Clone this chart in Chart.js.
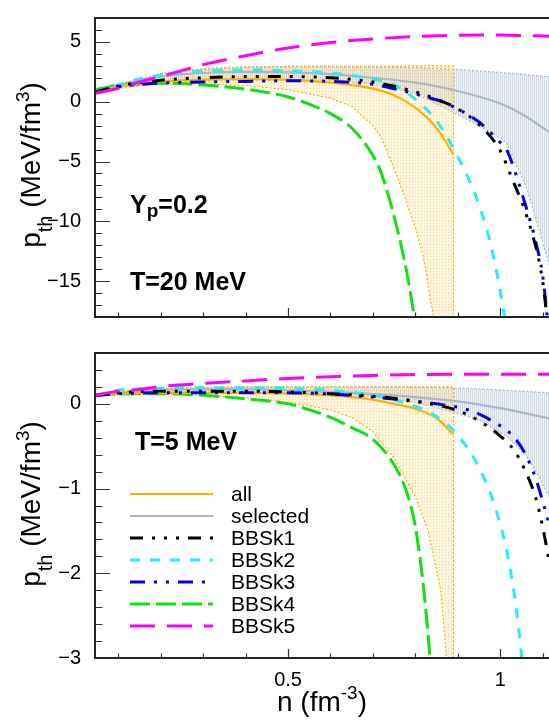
<!DOCTYPE html>
<html>
<head>
<meta charset="utf-8">
<script src="https://cdn.jsdelivr.net/npm/chart.js@4.4.1/dist/chart.umd.min.js"></script>
<style>
  html, body { margin: 0; padding: 0; background: #fff; overflow: hidden; }
  canvas { position: absolute; left: 0; }
  #top { top: 0; }
  #bot { top: 335px; }
</style>
</head>
<body>
<canvas id="top" width="549" height="335"></canvas>
<canvas id="bot" width="549" height="386"></canvas>
<script>
// x axis: n (fm^-3)
const nMin = 0.045, nMax = 1.115;
const xMajor = [0.5, 1];
const yMajorT20 = [5, 0, -5, -10, -15];
const yMajorT5 = [0, -1, -2, -3];

// ---- T = 20 MeV ----
const nAll20 = [0.045, 0.1, 0.15, 0.2, 0.3, 0.4, 0.5, 0.6, 0.65, 0.7, 0.75, 0.8, 0.85, 0.89];
const all20 = [0.8, 1.3, 1.55, 1.7, 1.85, 1.9, 1.85, 1.6, 1.4, 1.1, 0.55, -0.5, -2.2, -4.4];
const nSel20 = [0.045, 0.1, 0.15, 0.2, 0.3, 0.4, 0.5, 0.6, 0.7, 0.8, 0.9, 1.0, 1.05, 1.13];
const sel20 = [0.8, 1.35, 1.8, 2.1, 2.4, 2.5, 2.45, 2.3, 2.0, 1.6, 0.9, -0.15, -1.0, -2.9];
const nK1_20 = [0.045, 0.1, 0.15, 0.2, 0.3, 0.4, 0.5, 0.6, 0.7, 0.76, 0.82, 0.9, 0.95, 1.0, 1.03, 1.055, 1.085, 1.1, 1.115];
const k1_20 = [0.8, 1.3, 1.6, 1.8, 2.0, 2.1, 2.1, 2.0, 1.65, 1.2, 0.6, -0.6, -1.9, -4.1, -6.6, -8.8, -12.3, -15.0, -19.5];
const nK2_20 = [0.045, 0.1, 0.15, 0.2, 0.3, 0.4, 0.5, 0.6, 0.7, 0.75, 0.8, 0.85, 0.9, 0.95, 0.98, 1.0, 1.015];
const k2_20 = [0.8, 1.4, 1.9, 2.2, 2.55, 2.65, 2.6, 2.4, 1.9, 1.4, 0.2, -1.6, -4.6, -8.6, -12.3, -15.8, -19];
const nK3_20 = [0.045, 0.1, 0.15, 0.2, 0.3, 0.4, 0.5, 0.6, 0.7, 0.76, 0.82, 0.87, 0.95, 1.0, 1.015, 1.06, 1.085, 1.1, 1.115];
const k3_20 = [0.8, 1.25, 1.45, 1.55, 1.65, 1.7, 1.75, 1.7, 1.45, 1.0, 0.45, -0.1, -1.7, -3.4, -4.0, -8.7, -11.9, -14.5, -19.5];
const nK4_20 = [0.045, 0.1, 0.15, 0.2, 0.3, 0.4, 0.5, 0.55, 0.6, 0.65, 0.7, 0.72, 0.75, 0.78, 0.8];
const k4_20 = [1.0, 1.35, 1.5, 1.55, 1.4, 1.05, 0.4, -0.2, -1.0, -2.2, -4.5, -6.0, -9.6, -14.3, -18.5];
const nK5_20 = [0.045, 0.1, 0.15, 0.2, 0.3, 0.4, 0.5, 0.6, 0.7, 0.8, 0.9, 1.0, 1.13];
const k5_20 = [0.7, 1.12, 1.65, 2.1, 3.1, 3.85, 4.5, 4.95, 5.25, 5.45, 5.55, 5.57, 5.47];
// bands (upper / lower edges)
const nAllUp20 = [0.045, 0.1, 0.2, 0.3, 0.4, 0.5, 0.6, 0.7, 0.8, 0.89];
const allUp20 = [0.8, 1.45, 2.3, 2.75, 2.9, 2.95, 2.95, 2.95, 3.0, 3.0];
const nAllLo20 = [0.045, 0.1, 0.2, 0.3, 0.4, 0.5, 0.6, 0.65, 0.7, 0.72, 0.76, 0.8, 0.82, 0.845, 0.89];
const allLo20 = [0.8, 1.25, 1.5, 1.5, 1.35, 1.0, 0.3, -0.4, -2.0, -3.0, -6.5, -10.5, -13.2, -18.5, -19];
const nSelUp20 = [0.045, 0.1, 0.2, 0.3, 0.4, 0.5, 0.6, 0.7, 0.8, 0.9, 1.0, 1.13];
const selUp20 = [0.8, 1.45, 2.35, 2.75, 2.9, 2.95, 2.95, 2.9, 2.85, 2.7, 2.45, 2.05];
const nSelLo20 = [0.045, 0.2, 0.4, 0.6, 0.7, 0.8, 0.89, 0.95, 1.0, 1.015, 1.06, 1.09, 1.13];
const selLo20 = [0.8, 1.6, 1.8, 1.75, 1.5, 0.7, -0.9, -2.0, -3.0, -3.5, -7.0, -10.5, -15.5];

// ---- T = 5 MeV ----
const nAll5 = [0.045, 0.1, 0.2, 0.3, 0.4, 0.5, 0.6, 0.7, 0.75, 0.8, 0.85, 0.89];
const all5 = [0.1, 0.12, 0.13, 0.13, 0.13, 0.12, 0.1, 0.05, 0.0, -0.06, -0.17, -0.36];
const nSel5 = [0.045, 0.1, 0.2, 0.3, 0.4, 0.5, 0.6, 0.7, 0.8, 0.9, 1.0, 1.05, 1.13];
const sel5 = [0.1, 0.13, 0.16, 0.17, 0.17, 0.16, 0.14, 0.115, 0.08, 0.03, -0.05, -0.1, -0.19];
const nK1_5 = [0.045, 0.1, 0.2, 0.3, 0.4, 0.5, 0.6, 0.7, 0.8, 0.9, 0.95, 1.0, 1.03, 1.06, 1.085, 1.1, 1.115, 1.13];
const k1_5 = [0.1, 0.13, 0.15, 0.15, 0.15, 0.14, 0.12, 0.09, 0.03, -0.08, -0.2, -0.38, -0.53, -0.8, -1.13, -1.45, -1.85, -2.3];
const nK2_5 = [0.045, 0.1, 0.2, 0.3, 0.4, 0.5, 0.6, 0.7, 0.8, 0.85, 0.9, 0.95, 0.99, 1.02, 1.04, 1.055];
const k2_5 = [0.1, 0.16, 0.185, 0.19, 0.19, 0.185, 0.16, 0.1, -0.03, -0.15, -0.37, -0.75, -1.25, -1.85, -2.5, -3.2];
const nK3_5 = [0.045, 0.1, 0.2, 0.3, 0.4, 0.5, 0.6, 0.7, 0.8, 0.85, 0.93, 0.98, 1.03, 1.06, 1.085, 1.1, 1.115, 1.13];
const k3_5 = [0.1, 0.12, 0.13, 0.13, 0.13, 0.13, 0.115, 0.08, 0.03, 0.0, -0.08, -0.2, -0.38, -0.6, -0.9, -1.15, -1.42, -1.75];
const nK4_5 = [0.045, 0.1, 0.2, 0.3, 0.4, 0.5, 0.55, 0.6, 0.65, 0.7, 0.75, 0.78, 0.8, 0.82, 0.84];
const k4_5 = [0.1, 0.115, 0.12, 0.1, 0.06, 0.0, -0.07, -0.16, -0.28, -0.42, -0.72, -1.05, -1.45, -2.2, -3.3];
const nK5_5 = [0.045, 0.1, 0.15, 0.2, 0.3, 0.4, 0.5, 0.6, 0.7, 0.8, 0.9, 1.0, 1.13];
const k5_5 = [0.1, 0.15, 0.17, 0.205, 0.24, 0.27, 0.3, 0.32, 0.335, 0.345, 0.35, 0.35, 0.35];
const nAllUp5 = [0.045, 0.1, 0.2, 0.3, 0.4, 0.5, 0.6, 0.7, 0.8, 0.89];
const allUp5 = [0.1, 0.15, 0.18, 0.19, 0.2, 0.2, 0.2, 0.2, 0.2, 0.2];
const nAllLo5 = [0.045, 0.1, 0.2, 0.3, 0.4, 0.5, 0.6, 0.65, 0.7, 0.75, 0.8, 0.83, 0.86, 0.875, 0.89];
const allLo5 = [0.1, 0.11, 0.11, 0.1, 0.07, 0.02, -0.07, -0.16, -0.33, -0.64, -1.1, -1.5, -2.2, -3.1, -3.2];
const nSelUp5 = [0.045, 0.1, 0.2, 0.3, 0.4, 0.6, 0.8, 0.9, 1.0, 1.13];
const selUp5 = [0.1, 0.15, 0.18, 0.19, 0.2, 0.2, 0.195, 0.185, 0.165, 0.125];
const nSelLo5 = [0.045, 0.2, 0.4, 0.6, 0.7, 0.8, 0.89, 0.95, 1.015, 1.06, 1.09, 1.13];
const selLo5 = [0.1, 0.13, 0.14, 0.12, 0.09, 0.02, -0.1, -0.19, -0.38, -0.6, -0.85, -1.25];

const legendNames = ['all', 'selected', 'BBSk1', 'BBSk2', 'BBSk3', 'BBSk4', 'BBSk5'];

const FONT = "'Liberation Sans', Arial, Helvetica, sans-serif";
const styles = {
  all:      { color: '#ffb000', width: 2.2, dash: [] },
  selected: { color: '#abb8c4', width: 2.2, dash: [] },
  BBSk1:    { color: '#000000', width: 3, dash: [13, 9, 3, 9, 3, 9, 3, 9] },
  BBSk2:    { color: '#22eeff', width: 3, dash: [10, 10] },
  BBSk3:    { color: '#0000ee', width: 3, dash: [15, 9, 3, 9, 3, 9] },
  BBSk4:    { color: '#11e011', width: 3, dash: [20, 6] },
  BBSk5:    { color: '#ff00ff', width: 3, dash: [25, 12] }
};

function pts(xs, ys) {
  return xs.map((x, i) => ({ x: x, y: ys[i] }));
}
// closed outline: upper edge left->right, lower edge right->left
function ring(upX, upY, loX, loY) {
  return pts(upX, upY).concat(pts(loX, loY).reverse());
}

function makePattern(size, base, mark, vertical) {
  const c = document.createElement('canvas');
  c.width = size; c.height = size;
  const g = c.getContext('2d');
  g.fillStyle = base; g.fillRect(0, 0, size, size);
  g.fillStyle = mark;
  if (vertical) g.fillRect(0, 0, 1, size); else g.fillRect(1, 1, 1, 1);
  return g.createPattern(c, 'repeat');
}
const orangeFill = makePattern(3, 'rgba(255,212,125,0.22)', 'rgba(255,178,45,0.5)', false);
const greyFill = makePattern(2, 'rgba(208,218,227,0.3)', 'rgba(172,188,202,0.45)', true);

function lineSet(name, xs, ys) {
  const s = styles[name];
  return {
    label: name, data: pts(xs, ys), borderColor: s.color, borderWidth: s.width,
    borderDash: s.dash, pointRadius: 0, fill: false, cubicInterpolationMode: 'monotone', order: 1
  };
}
function bandSet(label, data, edge, pattern) {
  return {
    label: label, data: data, borderColor: edge, borderWidth: 1.2, borderDash: [2, 2],
    backgroundColor: pattern, fill: 'shape', pointRadius: 0, tension: 0, order: 5
  };
}

// rich text: parts drawn one after another on a baseline
function drawRich(ctx, parts, x, y, align) {
  let total = 0;
  parts.forEach(p => {
    ctx.font = (p.bold ? 'bold ' : '') + p.size + 'px ' + FONT;
    p.w = ctx.measureText(p.t).width;
    total += p.w;
  });
  let cx = align === 'center' ? x - total / 2 : x;
  ctx.textBaseline = 'alphabetic';
  ctx.textAlign = 'left';
  ctx.fillStyle = '#000';
  parts.forEach(p => {
    ctx.font = (p.bold ? 'bold ' : '') + p.size + 'px ' + FONT;
    ctx.fillText(p.t, cx, y + (p.dy || 0));
    cx += p.w;
  });
}

function yTitle(ctx, cy) {
  ctx.save();
  ctx.translate(40, cy);
  ctx.rotate(-Math.PI / 2);
  drawRich(ctx, [
    { t: 'p', size: 28 }, { t: 'th', size: 20, dy: 12 },
    { t: ' (MeV/fm', size: 28 }, { t: '3', size: 19, dy: -11 }, { t: ')', size: 28 }
  ], 0, 0, 'center');
  ctx.restore();
}

// frame with ROOT-like inner ticks
function framePlugin(yMajor, yStep) {
  return {
    id: 'frame',
    afterDatasetsDraw(chart) {
      const { ctx, chartArea: a, scales: { x, y } } = chart;
      ctx.save();
      ctx.strokeStyle = '#333';
      ctx.lineWidth = 1.2;
      ctx.beginPath();
      const kMin = Math.ceil(y.min / yStep - 1e-6), kMax = Math.floor(y.max / yStep + 1e-6);
      for (let k = kMin; k <= kMax; k++) {
        const v = k * yStep;
        const major = yMajor.some(m => Math.abs(m - v) < 1e-6);
        const py = Math.round(y.getPixelForValue(v)) + 0.5;
        ctx.moveTo(a.left, py);
        ctx.lineTo(a.left + (major ? 15 : 7.5), py);
      }
      for (let k = 1; k <= 11; k++) {
        const v = k / 10;
        const major = xMajor.some(m => Math.abs(m - v) < 1e-6);
        const px = Math.round(x.getPixelForValue(v)) + 0.5;
        ctx.moveTo(px, a.bottom);
        ctx.lineTo(px, a.bottom - (major ? 9 : 4.5));
      }
      ctx.stroke();
      ctx.strokeStyle = '#222';
      ctx.lineWidth = 2;
      ctx.setLineDash([]);
      ctx.beginPath();
      ctx.moveTo(a.right, a.top);
      ctx.lineTo(a.left, a.top);
      ctx.lineTo(a.left, a.bottom);
      ctx.lineTo(a.right, a.bottom);
      ctx.stroke();
      ctx.restore();
    }
  };
}

function minusLabel(v) {
  return v < 0 ? '\u2212' + Math.abs(v) : String(v);
}

function makePanel(canvas, opts) {
  return new Chart(canvas, {
    type: 'line',
    data: { datasets: opts.datasets },
    options: {
      responsive: false,
      animation: false,
      events: [],
      layout: { padding: { top: 5, right: 0, left: 0, bottom: opts.showX ? 0 : 11 } },
      plugins: { legend: { display: false }, tooltip: { enabled: false } },
      scales: {
        x: {
          type: 'linear', min: nMin, max: nMax, display: opts.showX,
          grid: { display: false }, border: { display: false },
          ticks: { font: { family: FONT, size: 20 }, color: '#000', padding: 2, callback: v => String(v) },
          afterBuildTicks: s => { s.ticks = xMajor.map(v => ({ value: v })); },
          afterFit: s => { s.height = opts.showX ? 63 : 0; }
        },
        y: {
          type: 'linear', min: opts.yMin, max: opts.yMax,
          grid: { display: false }, border: { display: false },
          ticks: { font: { family: FONT, size: 20 }, color: '#000', padding: 6, callback: minusLabel },
          afterBuildTicks: s => { s.ticks = opts.yMajor.map(v => ({ value: v })); },
          afterFit: s => { s.width = 95; }
        }
      }
    },
    plugins: [framePlugin(opts.yMajor, opts.yStep), { id: 'texts', afterDraw: opts.texts }]
  });
}

makePanel(document.getElementById('top'), {
  yMin: -18, yMax: 7, yMajor: yMajorT20, yStep: 1, showX: false,
  datasets: [
    lineSet('BBSk5', nK5_20, k5_20),
    lineSet('BBSk1', nK1_20, k1_20),
    lineSet('BBSk3', nK3_20, k3_20),
    lineSet('BBSk2', nK2_20, k2_20),
    lineSet('all', nAll20, all20),
    lineSet('BBSk4', nK4_20, k4_20),
    lineSet('selected', nSel20, sel20),
    bandSet('all band', ring(nAllUp20, allUp20, nAllLo20, allLo20), '#ffb000', orangeFill),
    bandSet('selected band', ring(nSelUp20, selUp20, nSelLo20, selLo20), '#a9b6c2', greyFill)
  ],
  texts(chart) {
    const ctx = chart.ctx;
    drawRich(ctx, [{ t: 'Y', size: 25, bold: true }, { t: 'p', size: 19, bold: true, dy: 4 },
      { t: '=0.2', size: 25, bold: true }], 130, 213);
    drawRich(ctx, [{ t: 'T=20 MeV', size: 25, bold: true }], 130, 290);
    yTitle(ctx, 165);
  }
});

makePanel(document.getElementById('bot'), {
  yMin: -3, yMax: 0.6, yMajor: yMajorT5, yStep: 0.2, showX: true,
  datasets: [
    lineSet('BBSk5', nK5_5, k5_5),
    lineSet('BBSk1', nK1_5, k1_5),
    lineSet('BBSk3', nK3_5, k3_5),
    lineSet('BBSk2', nK2_5, k2_5),
    lineSet('all', nAll5, all5),
    lineSet('BBSk4', nK4_5, k4_5),
    lineSet('selected', nSel5, sel5),
    bandSet('all band', ring(nAllUp5, allUp5, nAllLo5, allLo5), '#ffb000', orangeFill),
    bandSet('selected band', ring(nSelUp5, selUp5, nSelLo5, selLo5), '#a9b6c2', greyFill)
  ],
  texts(chart) {
    const ctx = chart.ctx;
    drawRich(ctx, [{ t: 'T=5 MeV', size: 25, bold: true }], 135, 115);
    yTitle(ctx, 169);
    drawRich(ctx, [{ t: 'n (fm', size: 28 }, { t: '-3', size: 19, dy: -12 }, { t: ')', size: 28 }], 322, 376, 'center');
    // legend
    legendNames.forEach((name, i) => {
      const s = styles[name];
      const y = 159 + i * 22;
      ctx.save();
      ctx.strokeStyle = s.color;
      ctx.lineWidth = s.width;
      ctx.setLineDash(s.dash);
      ctx.beginPath();
      ctx.moveTo(130, y);
      ctx.lineTo(213, y);
      ctx.stroke();
      ctx.restore();
      ctx.fillStyle = '#000';
      ctx.font = '21px ' + FONT;
      ctx.textAlign = 'left';
      ctx.textBaseline = 'middle';
      ctx.fillText(name, 231, y + 1);
    });
  }
});
</script>
</body>
</html>
